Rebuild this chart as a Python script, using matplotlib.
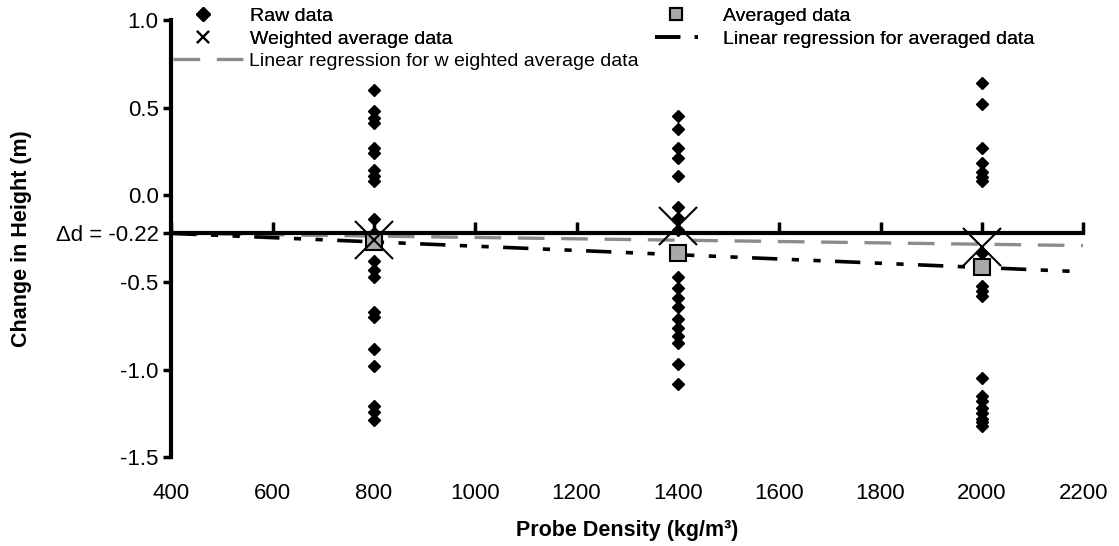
import numpy as np
import matplotlib
matplotlib.use("Agg")
import matplotlib.pyplot as plt
from matplotlib.lines import Line2D

plt.rcParams['font.family'] = ['Liberation Sans', 'DejaVu Sans']

# ── Dados ─────────────────────────────────────────────────────────────────────
dens = [800, 1400, 2000]

raw_800 = [0.60, 0.48, 0.44, 0.41, 0.27, 0.24, 0.14, 0.11, 0.08, -0.14,
           -0.22, -0.38, -0.43, -0.47, -0.67, -0.70, -0.88, -0.98,
           -1.21, -1.24, -1.29]
raw_1400 = [0.45, 0.38, 0.27, 0.21, 0.11, -0.07, -0.13, -0.20, -0.47,
            -0.53, -0.59, -0.64, -0.71, -0.76, -0.81, -0.85, -0.97, -1.08]
raw_2000 = [0.64, 0.52, 0.27, 0.18, 0.13, 0.10, 0.08, -0.33, -0.52,
            -0.55, -0.58, -1.05, -1.15, -1.18, -1.22, -1.25, -1.28,
            -1.30, -1.32]

avg = [-0.27, -0.33, -0.41]
w_avg = [-0.26, -0.18, -0.30]

reg_x = [400, 2200]
reg_avg = [-0.22, -0.44]
reg_w = [-0.22, -0.29]

delta_d = -0.22

# ── Figura ────────────────────────────────────────────────────────────────────
fig = plt.figure(figsize=(11.19, 5.46), dpi=100, facecolor='white')
ax = fig.add_axes([0.153, 0.163, 0.815, 0.800])

for x, vals in zip(dens, [raw_800, raw_1400, raw_2000]):
    ax.plot([x] * len(vals), vals, linestyle='none', marker='D',
            markersize=6.3, color='black', zorder=3)

ax.plot(reg_x, reg_w, color='#8c8c8c', linewidth=2.4,
        dashes=(8, 5), zorder=2)
ax.plot(reg_x, reg_avg, color='black', linewidth=2.6,
        dashes=(7, 4, 2, 4, 2, 4), zorder=2)

ax.plot(dens, avg, linestyle='none', marker='s', markersize=11,
        markerfacecolor='#a9a9a9', markeredgecolor='black',
        markeredgewidth=1.5, zorder=4)
ax.plot(dens, w_avg, linestyle='none', marker='x', markersize=28,
        markeredgewidth=1.5, color='black', zorder=5)

ax.set_xlim(400, 2200)
ax.set_ylim(-1.5, 1.0)

yt = [1.0, 0.5, 0.0, delta_d, -0.5, -1.0, -1.5]
ax.set_yticks(yt)
ax.set_yticklabels(['1.0', '0.5', '0.0', 'Δd = -0.22', '-0.5', '-1.0', '-1.5'])
ax.tick_params(axis='y', direction='out', length=6, width=2.5,
               labelsize=16, pad=3)

# eixo x cruza em Δd, rótulos embaixo
ax.spines['bottom'].set_position(('data', delta_d))
ax.spines['bottom'].set_linewidth(3)
ax.spines['left'].set_linewidth(3)
ax.spines['top'].set_visible(False)
ax.spines['right'].set_visible(False)
ax.set_xticks(np.arange(400, 2201, 200))
ax.tick_params(axis='x', direction='in', length=8, width=2.5,
               labelbottom=False)

sec = ax.secondary_xaxis(0.0)
sec.set_xticks(np.arange(400, 2201, 200))
sec.tick_params(axis='x', length=0, labelsize=16, pad=19)
sec.spines['bottom'].set_visible(False)
sec.set_xlabel('Probe Density (kg/m³)', fontsize=15.5, fontweight='bold',
               labelpad=11)

ax.set_ylabel('Change in Height (m)', fontsize=15.5, fontweight='bold',
              labelpad=17)

# ── Legenda ───────────────────────────────────────────────────────────────────
h_raw = Line2D([], [], linestyle='none', marker='D', markersize=7,
               color='black')
h_avg = Line2D([], [], linestyle='none', marker='s', markersize=8,
               markerfacecolor='#a9a9a9', markeredgecolor='black',
               markeredgewidth=1.5)
h_w = Line2D([], [], linestyle='none', marker='x', markersize=9,
             markeredgewidth=1.5, color='black')
h_ravg = Line2D([], [], color='black', linewidth=2.6,
                dashes=(7, 4, 2, 4, 2, 4))
h_rw = Line2D([], [], color='#8c8c8c', linewidth=2.4, dashes=(8, 5))

leg1 = fig.legend([h_raw, h_w, h_avg, h_ravg],
                  ['Raw data', 'Weighted average data', 'Averaged data',
                   'Linear regression for averaged data'],
                  ncol=2, loc='upper left', bbox_to_anchor=(0.147, 1.018),
                  frameon=False, fontsize=14, handlelength=2.2,
                  handletextpad=1.3, columnspacing=10.4, labelspacing=0.25)
fig.legend([h_rw], ['Linear regression for w eighted average data'],
           loc='upper left', bbox_to_anchor=(0.139, 0.936), frameon=False,
           fontsize=14, handlelength=3.8, handletextpad=0.1)
fig.add_artist(leg1)

plt.savefig('out.png', dpi=100, facecolor='white')
plt.close()
